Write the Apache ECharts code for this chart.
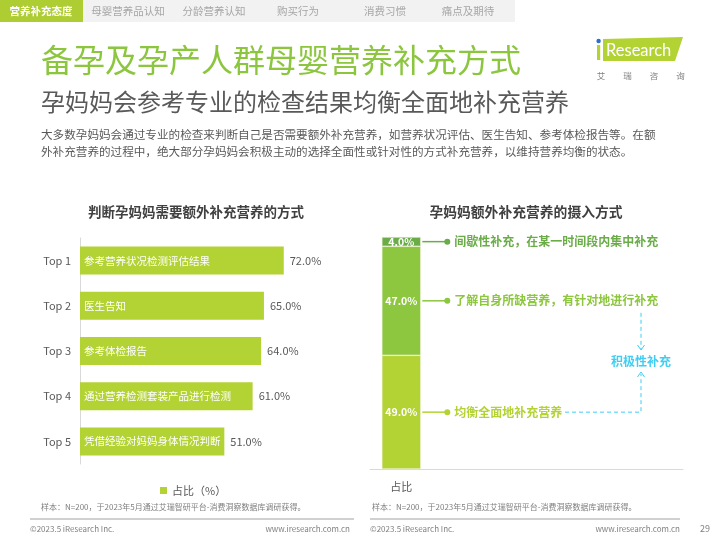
<!DOCTYPE html>
<html><head><meta charset="utf-8">
<script src="https://cdn.jsdelivr.net/npm/echarts@6/dist/echarts.min.js"></script>
<style>html,body{margin:0;padding:0;background:#fff}#c{width:720px;height:540px}</style>
</head><body><div id="c"></div>
<script>
// ---- data ----
var rankLabels = ['Top 1', 'Top 2', 'Top 3', 'Top 4', 'Top 5'];
var methodNames = ['参考营养状况检测评估结果', '医生告知', '参考体检报告', '通过营养检测套装产品进行检测', '凭借经验对妈妈身体情况判断'];
var methodValues = [72.0, 65.0, 64.0, 61.0, 51.0];
var intakeCategory = ['占比', '', '', '', ''];
var intakeNames = ['均衡全面地补充营养', '了解自身所缺营养，有针对地进行补充', '间歇性补充，在某一时间段内集中补充'];
var intakeValues = [49.0, 47.0, 4.0];
var tabs = ['营养补充态度', '母婴营养品认知', '分龄营养认知', '购买行为', '消费习惯', '痛点及期待'];

var FONT = '"Noto Sans CJK SC", "Noto Sans", sans-serif';
var GREEN = '#b3d233', GREEN2 = '#8dc63f', GREEN3 = '#6aac48', BLUE = '#3fcdf3', GRAY = '#595959';
var intakeColors = [GREEN, GREEN2, GREEN3];

var chart = echarts.init(document.getElementById('c'), null, {renderer: 'canvas'});

var stackSeries = intakeValues.map(function (v, i) {
  return {
    type: 'bar', stack: 'a', xAxisIndex: 1, yAxisIndex: 1, barWidth: 39,
    name: intakeNames[i],
    data: [v, null, null, null, null],
    itemStyle: {color: intakeColors[i], borderColor: '#eef5d8', borderWidth: 0.6},
    label: {show: true, position: 'inside', color: '#fff', fontSize: 10.5, fontWeight: 'bold', fontFamily: FONT,
      formatter: function (p) { return p.value.toFixed(1) + '%'; }},
    silent: true
  };
});

var option = {
  animation: false,
  textStyle: {fontFamily: FONT},
  legend: {
    data: [{name: '占比（%）', icon: 'rect'}], left: 155, top: 480,
    itemWidth: 7, itemHeight: 7, itemGap: 10,
    textStyle: {color: GRAY, fontSize: 11, fontFamily: FONT}
  },
  grid: [
    {left: 80, top: 238, width: 283, height: 226},
    {left: 370, top: 237, width: 313, height: 232}
  ],
  xAxis: [
    {gridIndex: 0, type: 'value', min: 0, max: 100, show: false},
    {gridIndex: 1, type: 'category', data: intakeCategory,
      axisLine: {lineStyle: {color: '#d9d9d9'}}, axisTick: {show: false},
      axisLabel: {color: GRAY, fontSize: 11, margin: 12, fontFamily: FONT}}
  ],
  yAxis: [
    {gridIndex: 0, type: 'category', data: rankLabels, inverse: true,
      axisLine: {lineStyle: {color: '#d9d9d9'}}, axisTick: {show: false},
      axisLabel: {color: GRAY, fontSize: 11, margin: 9, fontFamily: FONT}},
    {gridIndex: 1, type: 'value', min: 0, max: 100, show: false}
  ],
  series: [
    {type: 'bar', name: '占比（%）', xAxisIndex: 0, yAxisIndex: 0, barWidth: 28,
      data: methodValues.map(function (v, i) { return {value: v, name: methodNames[i]}; }),
      itemStyle: {color: GREEN},
      label: {show: true, position: 'insideLeft', distance: 4, color: '#fff', fontSize: 10.5, fontFamily: FONT,
        formatter: function (p) { return methodNames[p.dataIndex]; }}},
    {type: 'bar', name: 'value', xAxisIndex: 0, yAxisIndex: 0, barWidth: 28, barGap: '-100%',
      data: methodValues, itemStyle: {color: 'rgba(0,0,0,0)'},
      label: {show: true, position: 'right', distance: 6, color: GRAY, fontSize: 11, fontFamily: FONT,
        formatter: function (p) { return p.value.toFixed(1) + '%'; }}}
  ].concat(stackSeries)
};
chart.setOption(option);

// ---- static decorations ----
var g = [];
g.push({type: 'rect', shape: {x: 0, y: 0, width: 515, height: 22}, style: {fill: '#f2f2f2'}});
g.push({type: 'rect', shape: {x: 0, y: 0, width: 83, height: 22}, style: {fill: '#aecd32'}});
var tabX = [41, 128, 214, 298, 385, 468];
tabs.forEach(function (t, i) {
  g.push({type: 'text', x: tabX[i], y: 11, style: {text: t, fill: i === 0 ? '#fff' : '#a6a6a6', fontSize: 10.5, fontFamily: FONT,
    fontWeight: i === 0 ? 'bold' : 'normal', textAlign: 'center', textVerticalAlign: 'middle'}});
});
g.push({type: 'text', x: 41, y: 60, style: {text: '备孕及孕产人群母婴营养补充方式', fill: '#8cc63f', fontSize: 32, fontFamily: FONT, textVerticalAlign: 'middle'}});
g.push({type: 'text', x: 41, y: 102, style: {text: '孕妈妈会参考专业的检查结果均衡全面地补充营养', fill: GRAY, fontSize: 24, fontFamily: FONT, textVerticalAlign: 'middle'}});
g.push({type: 'text', x: 41, y: 135, style: {text: '大多数孕妈妈会通过专业的检查来判断自己是否需要额外补充营养，如营养状况评估、医生告知、参考体检报告等。在额', fill: GRAY, fontSize: 11.6, fontFamily: FONT, textVerticalAlign: 'middle'}});
g.push({type: 'text', x: 41, y: 152, style: {text: '外补充营养的过程中，绝大部分孕妈妈会积极主动的选择全面性或针对性的方式补充营养，以维持营养均衡的状态。', fill: GRAY, fontSize: 11.6, fontFamily: FONT, textVerticalAlign: 'middle'}});
// logo
g.push({type: 'polygon', shape: {points: [[603, 39], [683, 37], [675, 61], [603, 61]]}, style: {fill: '#b3d233'}});
g.push({type: 'rect', shape: {x: 597, y: 45, width: 3.2, height: 15}, style: {fill: '#b3d233'}});
g.push({type: 'circle', shape: {cx: 598.6, cy: 41, r: 2.2}, style: {fill: '#2a6fc9'}});
g.push({type: 'text', x: 606, y: 51, style: {text: 'Research', fill: '#fff', fontSize: 16.5, fontFamily: 'Lato, "Open Sans", sans-serif', textVerticalAlign: 'middle'}});
['艾', '瑞', '咨', '询'].forEach(function (c, i) {
  g.push({type: 'text', x: 601 + i * 26.5, y: 76, style: {text: c, fill: '#7f7f7f', fontSize: 8.5, fontFamily: FONT, textAlign: 'center', textVerticalAlign: 'middle'}});
});
// sub-chart titles
g.push({type: 'text', x: 196, y: 212, style: {text: '判断孕妈妈需要额外补充营养的方式', fill: '#404040', fontSize: 13.5, fontWeight: 'bold', fontFamily: FONT, textAlign: 'center', textVerticalAlign: 'middle'}});
g.push({type: 'text', x: 526, y: 212, style: {text: '孕妈妈额外补充营养的摄入方式', fill: '#404040', fontSize: 13.8, fontWeight: 'bold', fontFamily: FONT, textAlign: 'center', textVerticalAlign: 'middle'}});
// footers
var src = '样本：N=200，于2023年5月通过艾瑞智研平台-消费洞察数据库调研获得。';
g.push({type: 'text', x: 41, y: 507, style: {text: src, fill: '#7f7f7f', fontSize: 8, fontFamily: FONT, textVerticalAlign: 'middle'}});
g.push({type: 'text', x: 372, y: 507, style: {text: src, fill: '#7f7f7f', fontSize: 8, fontFamily: FONT, textVerticalAlign: 'middle'}});
g.push({type: 'line', shape: {x1: 30, y1: 519, x2: 354, y2: 519}, style: {stroke: '#d0d0d0', lineWidth: 2}});
g.push({type: 'line', shape: {x1: 370, y1: 519, x2: 680, y2: 519}, style: {stroke: '#d0d0d0', lineWidth: 2}});
g.push({type: 'text', x: 30, y: 529, style: {text: '©2023.5 iResearch Inc.', fill: '#7f7f7f', fontSize: 8, fontFamily: FONT, textVerticalAlign: 'middle'}});
g.push({type: 'text', x: 350, y: 529, style: {text: 'www.iresearch.com.cn', fill: '#7f7f7f', fontSize: 8, fontFamily: FONT, textAlign: 'right', textVerticalAlign: 'middle'}});
g.push({type: 'text', x: 370, y: 529, style: {text: '©2023.5 iResearch Inc.', fill: '#7f7f7f', fontSize: 8, fontFamily: FONT, textVerticalAlign: 'middle'}});
g.push({type: 'text', x: 680, y: 529, style: {text: 'www.iresearch.com.cn', fill: '#7f7f7f', fontSize: 8, fontFamily: FONT, textAlign: 'right', textVerticalAlign: 'middle'}});
g.push({type: 'text', x: 705, y: 529, style: {text: '29', fill: '#7f7f7f', fontSize: 9, fontFamily: FONT, textAlign: 'center', textVerticalAlign: 'middle'}});

// ---- annotations positioned from data via the chart's scales ----
var cum = 0, annY = [];
intakeValues.forEach(function (v) {
  var p = chart.convertToPixel({gridIndex: 1}, [0, cum + v / 2]);
  annY.push(p[1]);
  cum += v;
});
var barRight = chart.convertToPixel({gridIndex: 1}, [0, 0])[0] + 20;
annY.forEach(function (y, i) {
  var c = intakeColors[i];
  g.push({type: 'line', shape: {x1: barRight + 1, y1: y, x2: barRight + 26, y2: y}, style: {stroke: c, lineWidth: 1.5}});
  g.push({type: 'circle', shape: {cx: barRight + 26, cy: y, r: 3}, style: {fill: c}});
  g.push({type: 'text', x: barRight + 33, y: y, style: {text: intakeNames[i], fill: c, fontSize: 12, fontWeight: 'bold', fontFamily: FONT, textVerticalAlign: 'middle'}});
});
var yB = annY[0], yT = annY[1];
var ax = 641;
g.push({type: 'polyline', shape: {points: [[565, yB], [ax, yB], [ax, 374]]}, style: {stroke: BLUE, lineWidth: 1, lineDash: [4, 3], fill: null}});
g.push({type: 'polyline', shape: {points: [[ax - 3.5, 377], [ax, 372], [ax + 3.5, 377]]}, style: {stroke: BLUE, lineWidth: 1, fill: null}});
g.push({type: 'line', shape: {x1: ax, y1: yT + 12, x2: ax, y2: 349}, style: {stroke: BLUE, lineWidth: 1, lineDash: [4, 3]}});
g.push({type: 'polyline', shape: {points: [[ax - 3.5, 345], [ax, 350], [ax + 3.5, 345]]}, style: {stroke: BLUE, lineWidth: 1, fill: null}});
g.push({type: 'text', x: ax, y: 361, style: {text: '积极性补充', fill: BLUE, fontSize: 12, fontWeight: 'bold', fontFamily: FONT, textAlign: 'center', textVerticalAlign: 'middle'}});

chart.setOption({graphic: {elements: g}});
</script>
</body></html>
